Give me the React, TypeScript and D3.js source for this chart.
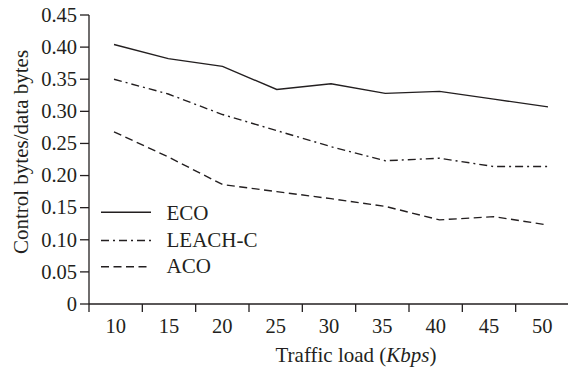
import React from "react";
import * as d3 from "d3";

const categories = [10, 15, 20, 25, 30, 35, 40, 45, 50];
const ecoValues = [0.404, 0.382, 0.370, 0.334, 0.343, 0.328, 0.331, 0.319, 0.307];
const leachValues = [0.350, 0.327, 0.295, 0.270, 0.245, 0.223, 0.227, 0.214, 0.214];
const acoValues = [0.268, 0.229, 0.186, 0.175, 0.164, 0.152, 0.131, 0.136, 0.123];
const yTicks = [0, 0.05, 0.1, 0.15, 0.2, 0.25, 0.3, 0.35, 0.4, 0.45];

const seriesNames = ["ECO", "LEACH-C", "ACO"];
const dashes = ["none", "8,4,2,4", "8,4.5"];

const W = 568;
const H = 371;
const ink = "#231f20";
const font = "'Liberation Serif', 'Times New Roman', serif";

export default function App() {
  const left = 89, right = 569, top = 15, bottom = 304;
  const xBand = d3.scaleBand<number>().domain(categories).range([left, right]).padding(0);
  const xData = d3.scaleLinear().domain([10, 50]).range([114, 548]);
  const y = d3.scaleLinear().domain([0, 0.45]).range([bottom, top]);
  const line = d3
    .line<number>()
    .x((_, i) => xData(categories[i]))
    .y((v) => y(v));
  const series = [ecoValues, leachValues, acoValues];
  const fmt = (v: number) => (v === 0 ? "0" : d3.format(".2f")(v));

  return (
    <svg
      width={W}
      height={H}
      style={{ position: "absolute", left: 0, top: 0, background: "#fff" }}
      fontFamily={font}
    >
      <rect width={W} height={H} fill="#fff" />
      {/* Y axis */}
      <line x1={left} x2={left} y1={top} y2={bottom} stroke={ink} strokeWidth={1.3} />
      {yTicks.map((t) => (
        <g key={t}>
          <line x1={left - 9} x2={left} y1={y(t)} y2={y(t)} stroke={ink} strokeWidth={1.3} />
          <text x={77} y={y(t)} dy="0.33em" textAnchor="end" fontSize={20.5} fill={ink}>
            {fmt(t)}
          </text>
        </g>
      ))}
      {/* X axis */}
      <line x1={left} x2={W} y1={bottom} y2={bottom} stroke={ink} strokeWidth={1.3} />
      {categories.map((c) => (
        <g key={c}>
          <line
            x1={xBand(c)!}
            x2={xBand(c)!}
            y1={bottom}
            y2={bottom + 8}
            stroke={ink}
            strokeWidth={1.3}
          />
          <text
            x={xBand(c)! + xBand.bandwidth() / 2}
            y={332.5}
            textAnchor="middle"
            fontSize={20.5}
            fill={ink}
          >
            {c}
          </text>
        </g>
      ))}
      {/* Axis titles */}
      <text x={356} y={361.5} textAnchor="middle" fontSize={21} fill={ink}>
        Traffic load (<tspan fontStyle="italic">Kbps</tspan>)
      </text>
      <text
        transform={`translate(27.5, ${152}) rotate(-90)`}
        textAnchor="middle"
        fontSize={21}
        fill={ink}
      >
        Control bytes/data bytes
      </text>
      {/* Lines */}
      {series.map((s, i) => (
        <path
          key={seriesNames[i]}
          d={line(s) || ""}
          fill="none"
          stroke={ink}
          strokeWidth={1.4}
          strokeDasharray={dashes[i]}
        />
      ))}
      {/* Legend */}
      {seriesNames.map((n, i) => {
        const ly = [212.3, 240.5, 266.8][i];
        const ty = [219.5, 247, 273][i];
        return (
          <g key={n}>
            <line
              x1={101}
              x2={151}
              y1={ly}
              y2={ly}
              stroke={ink}
              strokeWidth={1.4}
              strokeDasharray={dashes[i]}
            />
            <text x={166.5} y={ty} fontSize={21} fill={ink}>
              {n}
            </text>
          </g>
        );
      })}
    </svg>
  );
}
